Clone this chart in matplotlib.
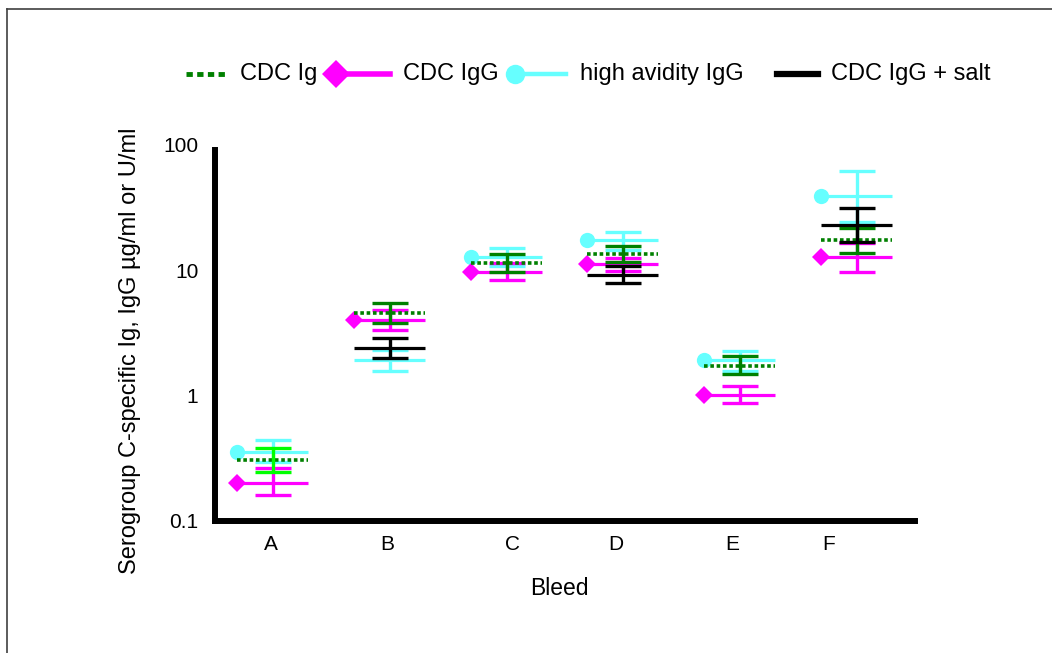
import numpy as np
import matplotlib
matplotlib.use("Agg")
from matplotlib import pyplot as plt
from matplotlib.lines import Line2D

plt.rcParams['font.family'] = ['Liberation Sans', 'DejaVu Sans']

# данные: среднее, нижняя и верхняя граница по каждому забору крови
bleeds = ['A', 'B', 'C', 'D', 'E', 'F']

cdc_ig_mean = [0.308, 4.53, 11.5, 13.6, 1.73, 17.6]
cdc_ig_lo = [0.247, 3.77, 9.76, 11.7, 1.49, 13.75]
cdc_ig_hi = [0.384, 5.45, 13.4, 15.5, 2.09, 21.6]

cdc_igg_mean = [0.201, 3.98, 9.76, 11.3, 1.006, 12.8]
cdc_igg_lo = [0.161, 3.37, 8.42, 9.87, 0.874, 9.76]
cdc_igg_hi = [0.265, 4.79, 11.4, 12.6, 1.20, 16.4]

avid_mean = [0.356, 1.91, 12.7, 17.4, 1.91, 39.3]
avid_lo = [0.293, 1.56, 10.8, 14.6, 1.56, 24.1]
avid_hi = [0.445, 2.30, 15.2, 20.4, 2.28, 61.9]

salt_mean = [np.nan, 2.42, np.nan, 9.24, np.nan, 22.9]
salt_lo = [np.nan, 2.01, np.nan, 7.97, np.nan, 16.7]
salt_hi = [np.nan, 2.86, np.nan, 10.8, np.nan, 31.7]

y_ticks = [0.1, 1, 10, 100]
y_tick_labels = ['0.1', '1', '10', '100']

# подписи оси X стоят не ровно по центрам групп
x_label_pos = [0.48, 1.474, 2.546, 3.437, 4.431, 5.263]

W, H = 1052, 653
fig = plt.figure(figsize=(W / 100, H / 100), dpi=100)
ax = fig.add_axes([215 / W, 1 - 521 / H, 700 / W, 376 / H])


def px(x, y):
    return x / W, 1 - y / H


def draw_series(mean, lo, hi, color, ecolors, marker, ms, ls, lw, z, show_marker=None):
    for i, m in enumerate(mean):
        if np.isnan(m):
            continue
        x = i + 0.5
        ax.plot([x - 0.31, x + 0.30], [m, m], color=color, lw=lw, ls=ls,
                solid_capstyle='butt', dash_capstyle='butt', zorder=z)
        if marker and (show_marker is None or show_marker[i]):
            ax.plot(x - 0.31, m, marker=marker, ms=ms, color=color, mew=0, zorder=z)
        ax.errorbar(x, m, yerr=[[m - lo[i]], [hi[i] - m]], fmt='none',
                    ecolor=ecolors[i], elinewidth=2.4, capsize=13.3, capthick=2.4, zorder=z)


draw_series(avid_mean, avid_lo, avid_hi, '#66ffff', ['#66ffff'] * 6, 'o', 11, '-', 2.3, 2,
            show_marker=[True, False, True, True, True, True])
draw_series(cdc_igg_mean, cdc_igg_lo, cdc_igg_hi, '#ff00ff', ['#ff00ff'] * 6, 'D', 9, '-', 2.3, 3)
draw_series(cdc_ig_mean, cdc_ig_lo, cdc_ig_hi, '#008000', ['#00ff00'] + ['#008000'] * 5, None, 0,
            (0, (1.0, 0.75)), 2.6, 4)
draw_series(salt_mean, salt_lo, salt_hi, 'black', ['black'] * 6, None, 0, '-', 2.3, 5)

ax.set_yscale('log')
ax.set_ylim(0.1, 100)
ax.set_xlim(0, 6)
ax.set_yticks(y_ticks)
ax.set_yticklabels(y_tick_labels)
ax.yaxis.set_minor_locator(matplotlib.ticker.NullLocator())
ax.set_xticks(x_label_pos)
ax.set_xticklabels(bleeds)
ax.tick_params(length=0, labelsize=15)
ax.tick_params(axis='y', pad=12)
ax.tick_params(axis='x', pad=10)

for s in ['top', 'right']:
    ax.spines[s].set_visible(False)
for s in ['left', 'bottom']:
    ax.spines[s].set_linewidth(4.3)
ax.spines['left'].set_bounds(0.1, 91)
ax.patch.set_visible(False)

ax.set_xlabel('Bleed', fontsize=16.5)
ax.set_ylabel('Serogroup C-specific Ig, IgG µg/ml or U/ml', fontsize=17)
# положение подписей осей по оригиналу
ax.xaxis.set_label_coords((559 - 215) / 700, (521 - 577) / 376)
ax.yaxis.set_label_coords((141 - 215) / 700, (521 - 351) / 376)

# легенда вручную, как в оригинале
ly = 74
fig.add_artist(Line2D([px(186, 0)[0], px(227, 0)[0]], [px(0, ly)[1]] * 2, color='#008000',
                      lw=3.5, ls=(0, (1.3, 0.9)), dash_capstyle='butt'))
fig.text(*px(240, ly), 'CDC Ig', fontsize=17, va='center')
fig.add_artist(Line2D([px(336, 0)[0], px(390, 0)[0]], [px(0, ly)[1]] * 2, color='#ff00ff', lw=4))
fig.add_artist(Line2D([px(336, 0)[0]], [px(0, ly)[1]], marker='D', ms=14, color='#ff00ff', mew=0))
fig.text(*px(403, ly), 'CDC IgG', fontsize=17, va='center')
fig.add_artist(Line2D([px(515, 0)[0], px(566, 0)[0]], [px(0, ly)[1]] * 2, color='#66ffff', lw=3.2))
fig.add_artist(Line2D([px(515, 0)[0]], [px(0, ly)[1]], marker='o', ms=14, color='#66ffff', mew=0))
fig.text(*px(580, ly), 'high avidity IgG', fontsize=17, va='center')
fig.add_artist(Line2D([px(777, 0)[0], px(818, 0)[0]], [px(0, ly)[1]] * 2, color='black', lw=4.5))
fig.text(*px(831, ly), 'CDC IgG + salt', fontsize=17, va='center')

# рамка
fig.add_artist(Line2D([px(7, 0)[0], 1.0], [px(0, 9)[1]] * 2, color='#404040', lw=1.2))
fig.add_artist(Line2D([px(7, 0)[0]] * 2, [px(0, 9)[1], 0.0], color='#404040', lw=1.2))

fig.savefig('out.png', dpi=100)
plt.close(fig)
